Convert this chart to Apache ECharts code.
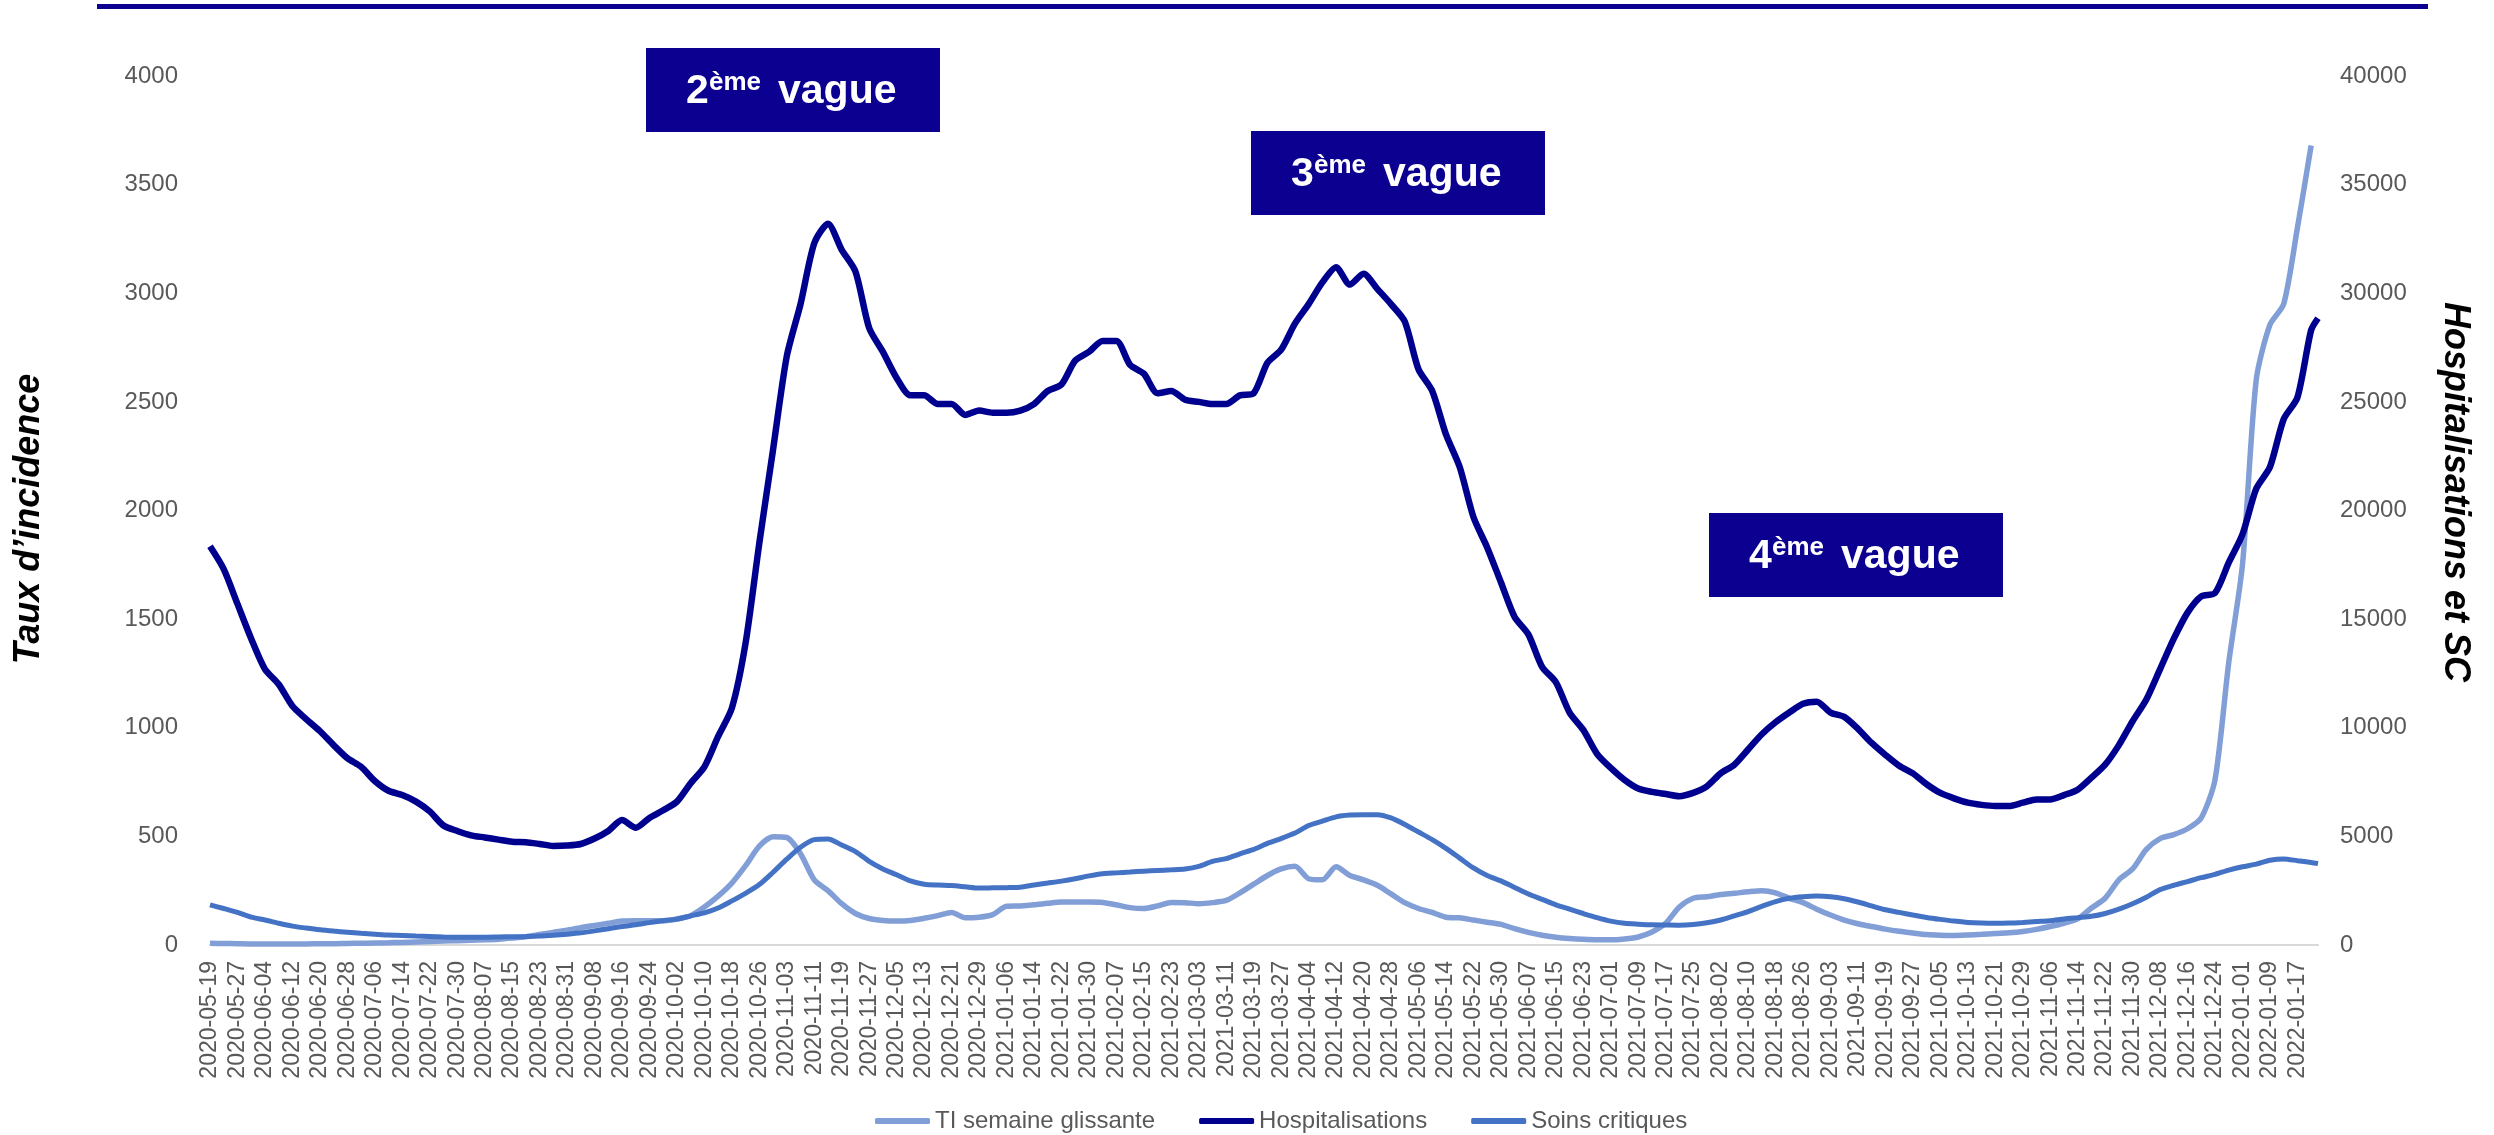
<!DOCTYPE html>
<html>
<head>
    <meta charset="utf-8">
    <title>Taux d'incidence, hospitalisations et soins critiques</title>
    <style>
        html, body { margin: 0; padding: 0; background: #fff; }
        #main { width: 2494px; height: 1135px; }
    </style>
</head>
<body>
    <div id="main"></div>
    <script src="https://cdn.jsdelivr.net/npm/echarts@6/dist/echarts.min.js"></script>
    <script>
    // daily axis : 2020-05-19 -> 2022-01-23
    var startDay = '2020-05-19';
    var dayCount = 615;
    // values read every 4 days (last hosp / SC point is the final day)
    var sampleStep = 4;

    var tiValues = [
        8, 7, 6, 5, 5, 5, 5, 5, 6, 6,
        7, 8, 9, 10, 12, 14, 16, 18, 20, 22,
        24, 27, 32, 38, 48, 58, 68, 80, 90, 100,
        110, 112, 112, 112, 120, 135, 175, 225, 285, 365,
        455, 498, 495, 420, 300, 250, 190, 145, 122, 113,
        110, 113, 123, 135, 150, 125, 128, 140, 178, 180,
        185, 192, 198, 198, 198, 196, 185, 172, 168, 180,
        196, 195, 190, 195, 205, 240, 280, 320, 350, 362,
        305, 300, 360, 320, 300, 275, 235, 195, 168, 150,
        128, 125, 115, 105, 95, 75, 58, 45, 36, 30,
        26, 24, 24, 28, 37, 60, 100, 175, 215, 222,
        232, 238, 245, 250, 240, 215, 195, 165, 138, 115,
        98, 85, 73, 63, 55, 48, 45, 44, 46, 49,
        53, 56, 62, 72, 85, 100, 120, 170, 215, 300,
        350, 440, 490, 508, 535, 585, 760, 1300, 1750, 2600,
        2855, 2950, 3300, 3680
    ];

    var hospValues = [
        18350, 17300, 15700, 14100, 12700, 12000, 11000, 10400, 9850, 9200,
        8600, 8200, 7550, 7100, 6900, 6600, 6150, 5500, 5250, 5050,
        4950, 4850, 4750, 4730, 4650, 4560, 4580, 4650, 4900, 5250,
        5750, 5400, 5850, 6200, 6600, 7450, 8200, 9600, 10900, 13900,
        18500, 22800, 27100, 29500, 32300, 33200, 32000, 31000, 28400, 27300,
        26100, 25300, 25300, 24900, 24900, 24400, 24600, 24500, 24500, 24600,
        24900, 25500, 25800, 26900, 27300, 27800, 27800, 26700, 26300, 25400,
        25500, 25100, 25000, 24900, 24900, 25300, 25400, 26800, 27400, 28600,
        29500, 30500, 31200, 30400, 30900, 30200, 29500, 28700, 26500, 25500,
        23500, 22000, 19700, 18300, 16700, 15100, 14300, 12800, 12100, 10700,
        9900, 8800, 8150, 7600, 7200, 7050, 6950, 6850, 7000, 7300,
        7900, 8300, 9000, 9700, 10250, 10700, 11100, 11200, 10700, 10500,
        9950, 9300, 8750, 8250, 7900, 7400, 7000, 6750, 6550, 6450,
        6400, 6400, 6550, 6700, 6700, 6900, 7150, 7700, 8300, 9200,
        10300, 11300, 12700, 14100, 15300, 16050, 16200, 17600, 18900, 21000,
        22000, 24200, 25200, 28300, 28850
    ];

    var scValues = [
        1850, 1680, 1500, 1280, 1150, 1000, 870, 780, 700, 640,
        590, 540, 500, 460, 440, 410, 390, 370, 360, 360,
        360, 370, 380, 390, 410, 450, 500, 560, 650, 750,
        850, 930, 1030, 1120, 1190, 1340, 1480, 1700, 2030, 2380,
        2780, 3350, 3950, 4500, 4850, 4880, 4600, 4300, 3850, 3500,
        3230, 2950, 2800, 2760, 2740, 2680, 2620, 2630, 2640, 2660,
        2760, 2850, 2940, 3050, 3180, 3280, 3320, 3360, 3400, 3430,
        3460, 3500, 3620, 3850, 3980, 4200, 4400, 4680, 4900, 5150,
        5500, 5700, 5900, 5980, 6000, 6000, 5850, 5550, 5200, 4850,
        4450, 4000, 3550, 3200, 2950, 2650, 2350, 2100, 1850, 1650,
        1450, 1260, 1100, 1000, 960, 930, 920, 910, 940, 1020,
        1150, 1340, 1540, 1780, 2000, 2150, 2220, 2250, 2220, 2130,
        1980, 1800, 1620, 1500, 1380, 1270, 1180, 1100, 1040, 1010,
        1000, 1010, 1040, 1080, 1120, 1200, 1260, 1320, 1450, 1650,
        1900, 2200, 2550, 2750, 2920, 3100, 3250, 3450, 3600, 3720,
        3900, 3960, 3880, 3800, 3750
    ];

    var seriesNames = ['TI semaine glissante', 'Hospitalisations', 'Soins critiques'];
    var waveLabels = [['2', 'ème', 'vague'], ['3', 'ème', 'vague'], ['4', 'ème', 'vague']];

    var axisDates = [];
    var t0 = new Date(startDay + 'T00:00:00Z').getTime();
    for (var i = 0; i < dayCount; i++) {
        axisDates.push(new Date(t0 + i * 86400000).toISOString().slice(0, 10));
    }

    function toPoints(values) {
        return values.map(function (v, i) {
            return [axisDates[Math.min(i * sampleStep, dayCount - 1)], v];
        });
    }

    var FONT = '"Liberation Sans", Arial, sans-serif';
    var NAVY = '#0B0090';

    function waveBox(parts, left, top) {
        return {
            type: 'group',
            children: [
                { type: 'rect', shape: { x: left, y: top, width: 294, height: 84 }, style: { fill: NAVY } },
                { type: 'text', x: left + 40, y: top + 44, style: { text: parts[0], fill: '#fff', font: 'bold 41px ' + FONT, align: 'left', verticalAlign: 'middle' } },
                { type: 'text', x: left + 63, y: top + 35, style: { text: parts[1], fill: '#fff', font: 'bold 26px ' + FONT, align: 'left', verticalAlign: 'middle' } },
                { type: 'text', x: left + 132, y: top + 44, style: { text: parts[2], fill: '#fff', font: 'bold 41px ' + FONT, align: 'left', verticalAlign: 'middle' } }
            ]
        };
    }

    function plain(v) { return String(v); }

    var chart = echarts.init(document.getElementById('main'));
    var option = {
        animation: false,
        backgroundColor: '#fff',
        grid: { left: 210, right: 176, top: 76, bottom: 190 },
        legend: {
            data: seriesNames,
            left: 870,
            top: 1104,
            icon: 'roundRect',
            itemWidth: 55,
            itemHeight: 6,
            itemGap: 44,
            textStyle: { fontSize: 24, color: '#595959', fontFamily: FONT }
        },
        xAxis: {
            type: 'category',
            data: axisDates,
            boundaryGap: false,
            axisLine: { lineStyle: { color: '#D9D9D9', width: 2 } },
            axisTick: { show: false },
            axisLabel: {
                interval: 7,
                rotate: 90,
                margin: 16,
                fontSize: 23,
                color: '#595959',
                fontFamily: FONT
            },
            splitLine: { show: false }
        },
        yAxis: [{
            type: 'value',
            min: 0,
            max: 4000,
            interval: 500,
            axisLine: { show: false },
            axisTick: { show: false },
            splitLine: { show: false },
            axisLabel: { fontSize: 24, color: '#595959', margin: 32, fontFamily: FONT, formatter: plain }
        }, {
            type: 'value',
            min: 0,
            max: 40000,
            interval: 5000,
            position: 'right',
            axisLine: { show: false },
            axisTick: { show: false },
            splitLine: { show: false },
            axisLabel: { fontSize: 24, color: '#595959', margin: 22, fontFamily: FONT, formatter: plain }
        }],
        series: [{
            name: seriesNames[0],
            type: 'line',
            yAxisIndex: 0,
            data: toPoints(tiValues),
            symbol: 'none',
            smooth: 0.25,
            color: '#819FD6',
            lineStyle: { width: 5.5, color: '#819FD6' }
        }, {
            name: seriesNames[1],
            type: 'line',
            yAxisIndex: 1,
            data: toPoints(hospValues),
            symbol: 'none',
            smooth: 0.25,
            color: '#00008F',
            lineStyle: { width: 6.5, color: '#00008F' }
        }, {
            name: seriesNames[2],
            type: 'line',
            yAxisIndex: 1,
            data: toPoints(scValues),
            symbol: 'none',
            smooth: 0.25,
            color: '#4472C4',
            lineStyle: { width: 5, color: '#4472C4' }
        }],
        graphic: [
            { type: 'rect', shape: { x: 97, y: 4, width: 2331, height: 5 }, style: { fill: NAVY } },
            waveBox(waveLabels[0], 646, 48),
            waveBox(waveLabels[1], 1251, 131),
            waveBox(waveLabels[2], 1709, 513),
            {
                type: 'text', x: 29, y: 519, rotation: Math.PI / 2,
                style: { text: 'Taux d’incidence', fill: '#000', font: 'italic bold 36px "Liberation Sans Narrow", ' + FONT, align: 'center', verticalAlign: 'middle' }
            },
            {
                type: 'text', x: 2455, y: 492, rotation: -Math.PI / 2,
                style: { text: 'Hospitalisations et SC', fill: '#000', font: 'italic bold 36px "Liberation Sans Narrow", ' + FONT, align: 'center', verticalAlign: 'middle' }
            }
        ]
    };
    chart.setOption(option);
    </script>
</body>
</html>
